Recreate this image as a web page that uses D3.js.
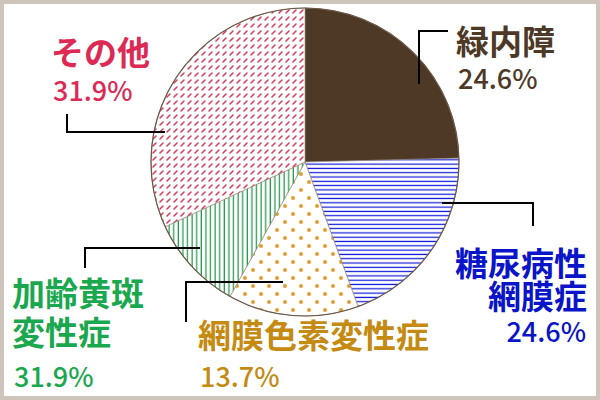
<!DOCTYPE html>
<html><head><meta charset="utf-8">
<script src="https://cdn.jsdelivr.net/npm/d3@7"></script>
<style>body{margin:0}svg{display:block}</style>
</head><body>
<svg width="600" height="400"></svg>
<script>
// 円グラフの角度を決める値（ラベルは画像の表記どおり）
var categories = ["緑内障", "糖尿病性網膜症", "網膜色素変性症", "加齢黄斑変性症", "その他"];
var values = [24.6, 19.8, 13.7, 10.0, 31.9];
var percentLabels = ["24.6%", "24.6%", "13.7%", "31.9%", "31.9%"];
var fills = ["#4e3826", "url(#pBlue)", "url(#pDots)", "url(#pGreen)", "url(#pPink)"];
var textColors = ["#4e3826", "#0a14c8", "#c48a12", "#1aa84f", "#dc2a55"];

var svg = d3.select("svg");
svg.append("rect").attr("x",2).attr("y",2).attr("width",596).attr("height",396)
  .attr("fill","#fff").attr("stroke","#cdc4bb").attr("stroke-width",4);

var defs = svg.append("defs");
// 青の横線
var p = defs.append("pattern").attr("id","pBlue").attr("patternUnits","userSpaceOnUse").attr("width",8).attr("height",4.3);
p.append("rect").attr("width",8).attr("height",4.3).attr("fill","#fff");
p.append("rect").attr("y",1.5).attr("width",8).attr("height",1.2).attr("fill","#0a14d8");
// 緑の縦線
p = defs.append("pattern").attr("id","pGreen").attr("patternUnits","userSpaceOnUse").attr("width",4.6).attr("height",8);
p.append("rect").attr("width",4.6).attr("height",8).attr("fill","#fff");
p.append("rect").attr("x",1.5).attr("width",1.2).attr("height",8).attr("fill","#1a9641");
// 黄色の点
p = defs.append("pattern").attr("id","pDots").attr("patternUnits","userSpaceOnUse").attr("width",16).attr("height",16);
p.append("rect").attr("width",16).attr("height",16).attr("fill","#fff");
p.append("circle").attr("cx",4).attr("cy",4).attr("r",2).attr("fill","#e0a030");
p.append("circle").attr("cx",12).attr("cy",12).attr("r",2).attr("fill","#e0a030");
// ピンクの斜め破線
p = defs.append("pattern").attr("id","pPink").attr("patternUnits","userSpaceOnUse").attr("width",7).attr("height",7);
p.append("rect").attr("width",7).attr("height",7).attr("fill","#fff");
p.append("line").attr("x1",2).attr("y1",5).attr("x2",5).attr("y2",2)
  .attr("stroke","#d94060").attr("stroke-width",1.6).attr("stroke-linecap","round");

var cx = 305, cy = 162, r = 154;
var pie = d3.pie().sort(null);
var arc = d3.arc().innerRadius(0).outerRadius(r);
var g = svg.append("g").attr("transform","translate("+cx+","+cy+")");
g.selectAll("path").data(pie(values)).enter().append("path")
  .attr("d", arc)
  .attr("fill", function(d,i){ return fills[i]; })
  .attr("stroke", "#8a7a6a").attr("stroke-width", 0.6);
g.append("circle").attr("r",r).attr("fill","none").attr("stroke","#6b5646").attr("stroke-width",1.2);

// 引き出し線
var leaders = [
  [[448,31],[419,31],[419,84]],
  [[442,203],[533,203],[533,226]],
  [[283,282],[186,282],[186,322]],
  [[200,248],[85,248],[85,268]],
  [[165,132],[67,132],[67,114]]
];
svg.selectAll(".leader").data(leaders).enter().append("path")
  .attr("d", function(d){ return d3.line()(d); })
  .attr("fill","none").attr("stroke","#000").attr("stroke-width",2);

// ラベル
var nameLines = [
  [["緑内障",456,54,"start"]],
  [["糖尿病性",587,276,"end"],["網膜症",587,309,"end"]],
  [["網膜色素変性症",198,348,"start"]],
  [["加齢黄斑",12,306,"start"],["変性症",12,345,"start"]],
  [["その他",51,65,"start"]]
];
var pctPos = [[458,89,"start"],[586,342,"end"],[200,387,"start"],[14,387,"start"],[53,101,"start"]];
nameLines.forEach(function(lines,i){
  lines.forEach(function(l){
    svg.append("text").attr("x",l[1]).attr("y",l[2]).attr("text-anchor",l[3])
      .attr("font-family","'Noto Sans CJK JP', sans-serif").attr("font-weight","bold")
      .attr("font-size",33).attr("fill",textColors[i]).text(l[0]);
  });
  svg.append("text").attr("x",pctPos[i][0]).attr("y",pctPos[i][1]).attr("text-anchor",pctPos[i][2])
    .attr("font-family","'Noto Sans CJK JP', sans-serif").attr("font-weight","500")
    .attr("font-size",27).attr("fill",textColors[i]).text(percentLabels[i]);
});
</script>
</body></html>
